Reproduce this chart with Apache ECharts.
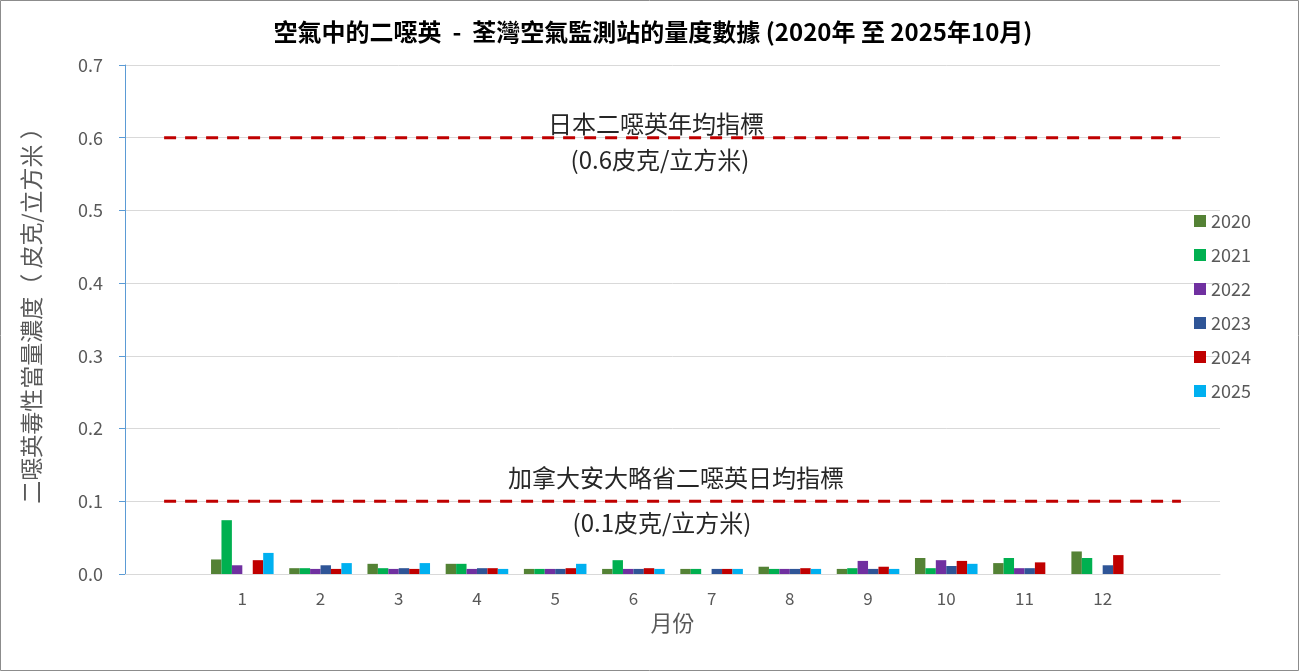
<!DOCTYPE html>
<html>
<head>
<meta charset="utf-8">
<script src="https://cdn.jsdelivr.net/npm/echarts@6/dist/echarts.min.js"></script>
<style>
html,body{margin:0;padding:0;background:#fff;}
#chart{width:1300px;height:672px;}
</style>
</head>
<body>
<div id="chart"></div>
<script>
// Categories: empty slot either side of the 12 months (as in the reference)
const months = ['', '1', '2', '3', '4', '5', '6', '7', '8', '9', '10', '11', '12', ''];
const years = ['2020', '2021', '2022', '2023', '2024', '2025'];
// Monthly values (pg/m3), null = no data
const v2020 = [0.020, 0.008, 0.014, 0.014, 0.007, 0.007, 0.007, 0.010, 0.007, 0.022, 0.015, 0.031];
const v2021 = [0.074, 0.008, 0.008, 0.014, 0.007, 0.019, 0.007, 0.007, 0.008, 0.008, 0.022, 0.022];
const v2022 = [0.012, 0.007, 0.007, 0.007, 0.007, 0.007, null,  0.007, 0.018, 0.019, 0.008, null];
const v2023 = [null,  0.012, 0.008, 0.008, 0.007, 0.007, 0.007, 0.007, 0.007, 0.011, 0.008, 0.012];
const v2024 = [0.019, 0.007, 0.007, 0.008, 0.008, 0.008, 0.007, 0.008, 0.010, 0.018, 0.016, 0.026];
const v2025 = [0.029, 0.015, 0.015, 0.007, 0.014, 0.007, 0.007, 0.007, 0.007, 0.014, null,  null];
// Reference guideline levels
const japanGuide = [0.6, 0.6, 0.6, 0.6, 0.6, 0.6, 0.6, 0.6, 0.6, 0.6, 0.6, 0.6, 0.6, 0.6];
const ontarioGuide = [0.1, 0.1, 0.1, 0.1, 0.1, 0.1, 0.1, 0.1, 0.1, 0.1, 0.1, 0.1, 0.1, 0.1];

const colors = ['#548235', '#00B050', '#7030A0', '#2F5597', '#C00000', '#00B0F0'];
const yearData = [v2020, v2021, v2022, v2023, v2024, v2025];
const FONT = '"Noto Sans CJK TC", "Noto Sans", sans-serif';

const pad = arr => ['-'].concat(arr.map(v => v === null ? '-' : v)).concat(['-']);

const barSeries = years.map((y, i) => ({
  name: y,
  type: 'bar',
  data: pad(yearData[i]),
  itemStyle: { color: colors[i] },
  barGap: '0%',
  barCategoryGap: '20%',
  animation: false
}));

const lineStyleCommon = { color: '#C00000', width: 3, type: [12, 9] };
const lineSeries = [
  { name: 'jp', type: 'line', data: japanGuide, symbol: 'none', lineStyle: lineStyleCommon, z: 5, animation: false, silent: true },
  { name: 'on', type: 'line', data: ontarioGuide, symbol: 'none', lineStyle: lineStyleCommon, z: 5, animation: false, silent: true }
];

const annoStyle = { fontFamily: FONT, fontSize: 24, fontWeight: 'normal', color: '#262626' };

const chart = echarts.init(document.getElementById('chart'));
chart.setOption({
  backgroundColor: '#fff',
  animation: false,
  title: [
    { text: '空氣中的二噁英  -  荃灣空氣監測站的量度數據 (2020年 至 2025年10月)', left: 648, textAlign: 'center', top: 15,
      textStyle: { fontFamily: FONT, fontSize: 24, fontWeight: 'bold', color: '#000' } },
    { text: '日本二噁英年均指標', left: 651, top: 107, textAlign: 'center', textStyle: annoStyle },
    { text: '(0.6皮克/立方米)', left: 655, top: 143, textAlign: 'center', textStyle: annoStyle },
    { text: '加拿大安大略省二噁英日均指標', left: 671, top: 461, textAlign: 'center', textStyle: annoStyle },
    { text: '(0.1皮克/立方米)', left: 657, top: 506, textAlign: 'center', textStyle: annoStyle }
  ],
  graphic: [
    { type: 'rect', shape: { x: 0.5, y: 0.5, width: 1298, height: 670 }, style: { fill: 'none', stroke: '#8c8c8c', lineWidth: 1 }, silent: true },
    { type: 'text', x: 31, y: 310, rotation: Math.PI / 2,
      style: { text: '二噁英毒性當量濃度（ 皮克/立方米 ）', fontFamily: FONT, fontSize: 23, fill: '#595959', align: 'center', verticalAlign: 'middle' },
      silent: true }
  ],
  legend: {
    data: years,
    orient: 'vertical',
    left: 1189,
    top: 207,
    itemWidth: 12,
    itemHeight: 12,
    itemGap: 16,
    icon: 'rect',
    textStyle: { fontFamily: FONT, fontSize: 18, color: '#595959', lineHeight: 18 }
  },
  grid: { left: 125, right: 80, top: 65, bottom: 98, containLabel: false },
  xAxis: {
    type: 'category',
    data: months,
    name: '月份',
    nameLocation: 'middle',
    nameGap: 36,
    nameTextStyle: { fontFamily: FONT, fontSize: 22, color: '#595959' },
    axisLine: { lineStyle: { color: '#d9d9d9', width: 1 } },
    axisTick: { show: false },
    axisLabel: { fontFamily: FONT, fontSize: 17, color: '#595959', margin: 16, interval: 0 },
    splitLine: { show: false }
  },
  yAxis: {
    type: 'value',
    min: 0,
    max: 0.7,
    interval: 0.1,
    axisLine: { show: true, lineStyle: { color: '#5B9BD5', width: 1 } },
    axisTick: { show: true, length: 6, lineStyle: { color: '#5B9BD5' } },
    axisLabel: { fontFamily: FONT, fontSize: 18, color: '#595959', margin: 22,
      formatter: v => v.toFixed(1) },
    splitLine: { lineStyle: { color: '#d9d9d9', width: 1 } }
  },
  series: barSeries.concat(lineSeries)
});
</script>
</body>
</html>
